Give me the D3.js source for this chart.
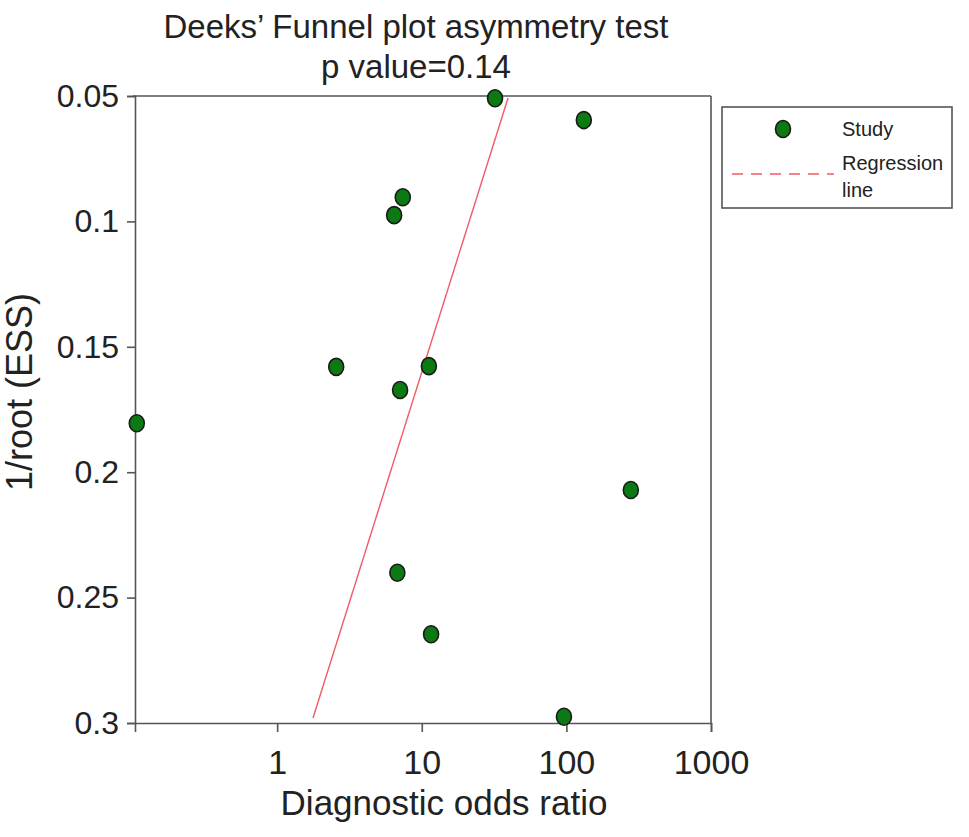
<!DOCTYPE html>
<html>
<head>
<meta charset="utf-8">
<script src="https://cdn.jsdelivr.net/npm/d3@7"></script>
<style>
  body { margin: 0; background: #fff; }
  svg text { font-family: "Liberation Sans", Arial, sans-serif; fill: #222; }
</style>
</head>
<body>
<svg id="chart" width="969" height="837"></svg>
<script>
// Study points: diagnostic odds ratio vs 1/root(ESS)
const studyDOR = [32.1, 132, 7.39, 6.44, 2.56, 11.2, 7.08, 0.107, 279, 6.78, 11.6, 96.2];
const studyInvRootESS = [0.0509, 0.0596, 0.0904, 0.0975, 0.158, 0.1577, 0.1672, 0.1805, 0.2071, 0.2401, 0.2646, 0.2975];

// Regression line end points
const regDOR = [1.77, 39.5];
const regInvRootESS = [0.298, 0.0508];

const xTicks = [1, 10, 100, 1000];
const yTicks = [0.05, 0.1, 0.15, 0.2, 0.25, 0.3];

const svg = d3.select("#chart");
const margin = { top: 96, right: 258, bottom: 114, left: 135 };
const width = 969, height = 837;
const innerW = width - margin.left - margin.right;
const innerH = height - margin.top - margin.bottom;

const x = d3.scaleLog().domain([0.104, 1000]).range([0, innerW]);
const y = d3.scaleLinear().domain([0.05, 0.3]).range([0, innerH]);

const g = svg.append("g").attr("transform", `translate(${margin.left},${margin.top})`);

const axisColor = "#555";

// frame top + right
g.append("line").attr("x1", -2).attr("x2", innerW).attr("y1", 0).attr("y2", 0)
  .attr("stroke", axisColor).attr("stroke-width", 1.6);
g.append("line").attr("x1", innerW).attr("x2", innerW).attr("y1", 0).attr("y2", innerH)
  .attr("stroke", axisColor).attr("stroke-width", 1.6);

// x axis
const xAxisG = g.append("g")
  .attr("transform", `translate(0,${innerH})`)
  .call(d3.axisBottom(x).tickValues(xTicks).tickFormat(d3.format("d")).tickSize(9).tickPadding(18));
xAxisG.select(".domain").attr("stroke", axisColor).attr("stroke-width", 1.6);
xAxisG.selectAll(".tick line").attr("stroke", axisColor).attr("stroke-width", 1.6);
xAxisG.selectAll("text").style("font-size", "34px").style("fill", "#222");

// y axis
const yAxisG = g.append("g")
  .call(d3.axisLeft(y).tickValues(yTicks).tickFormat(d => String(d)).tickSize(8).tickPadding(8));
yAxisG.select(".domain").attr("stroke", axisColor).attr("stroke-width", 1.6);
yAxisG.selectAll(".tick line").attr("stroke", axisColor).attr("stroke-width", 1.6);
yAxisG.selectAll("text").style("font-size", "32px").style("fill", "#222");

// regression line
const regData = regDOR.map((d, i) => ({ dor: d, v: regInvRootESS[i] }));
g.append("path")
  .datum(regData)
  .attr("fill", "none")
  .attr("stroke", "#f25a66")
  .attr("stroke-width", 1.4)
  .attr("d", d3.line().x(d => x(d.dor)).y(d => y(d.v)));

// study points
const pts = studyDOR.map((d, i) => ({ dor: d, v: studyInvRootESS[i] }));
g.selectAll(".pt")
  .data(pts)
  .join("ellipse")
  .attr("class", "pt")
  .attr("cx", d => x(d.dor))
  .attr("cy", d => y(d.v))
  .attr("rx", 7.5)
  .attr("ry", 8.5)
  .attr("fill", "#0b7a12")
  .attr("stroke", "#1a1a1a")
  .attr("stroke-width", 1.6);

// titles
svg.append("text").attr("x", 416).attr("y", 38).attr("text-anchor", "middle")
  .style("font-size", "33px").text("Deeks\u2019 Funnel plot asymmetry test");
svg.append("text").attr("x", 416).attr("y", 78).attr("text-anchor", "middle")
  .style("font-size", "33px").text("p value=0.14");

svg.append("text").attr("x", 444).attr("y", 815).attr("text-anchor", "middle")
  .style("font-size", "35px").text("Diagnostic odds ratio");

svg.append("text")
  .attr("transform", "translate(32,392) rotate(-90)")
  .attr("text-anchor", "middle")
  .style("font-size", "36px").text("1/root (ESS)");

// legend
const lg = svg.append("g").attr("transform", "translate(722,107)");
lg.append("rect").attr("width", 230).attr("height", 101)
  .attr("fill", "#fff").attr("stroke", axisColor).attr("stroke-width", 1.6);
lg.append("ellipse").attr("cx", 61).attr("cy", 22).attr("rx", 7.5).attr("ry", 8.5)
  .attr("fill", "#0b7a12").attr("stroke", "#1a1a1a").attr("stroke-width", 1.6);
lg.append("text").attr("x", 120).attr("y", 29).style("font-size", "20px").text("Study");
lg.append("line").attr("x1", 10).attr("x2", 112).attr("y1", 67).attr("y2", 67)
  .attr("stroke", "#f25a66").attr("stroke-width", 1.6).attr("stroke-dasharray", "11,8");
lg.append("text").attr("x", 120).attr("y", 63).style("font-size", "20px").text("Regression");
lg.append("text").attr("x", 120).attr("y", 90).style("font-size", "20px").text("line");
</script>
</body>
</html>
